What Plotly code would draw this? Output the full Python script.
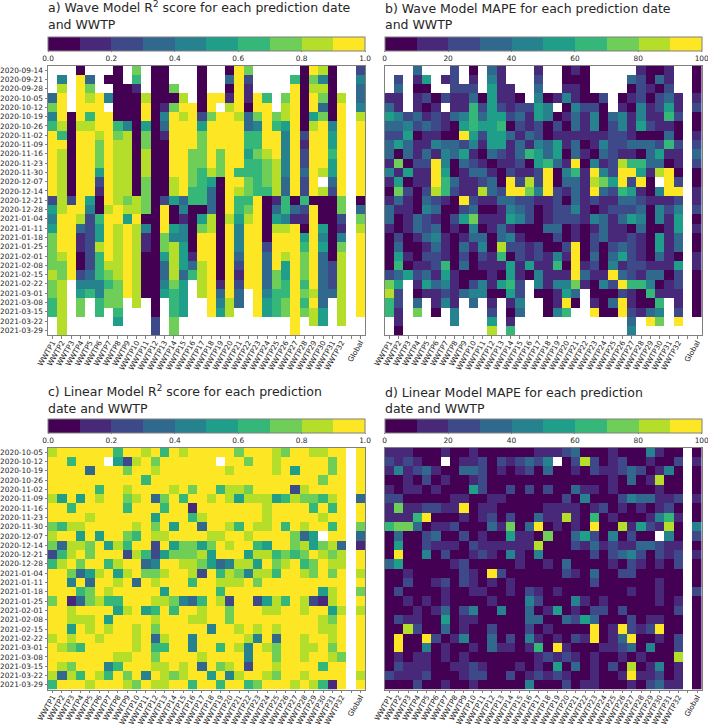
import numpy as np
import plotly.graph_objects as go

# every cell is read off the picture as its colour band (0-9), "." means no value
wwtp_labels = ["WWTP%d" % i for i in range(1, 33)] + ["Global"]
wwtp_ticks = list(range(32)) + [33]
blank_tick = [32]

dates_wave = ["2020-09-14", "2020-09-21", "2020-09-28", "2020-10-05", "2020-10-12", "2020-10-19",
              "2020-10-26", "2020-11-02", "2020-11-09", "2020-11-16", "2020-11-23", "2020-11-30",
              "2020-12-07", "2020-12-14", "2020-12-21", "2020-12-28", "2021-01-04", "2021-01-11",
              "2021-01-18", "2021-01-25", "2021-02-01", "2021-02-08", "2021-02-15", "2021-02-22",
              "2021-03-01", "2021-03-08", "2021-03-15", "2021-03-22", "2021-03-29"]
dates_linear = dates_wave[3:]

wave_r2 = [
    "...0...0.7 .00...0..0 97.....098 0..2",
    ".4.93.00.6 .00...0..3 92....6074 0..4",
    ".8.97..001 .007..0..0 91....9088 0..3",
    "39.9894000 80008.0991 9196.79097 08.3",
    "79.999.000 90179909.8 9099.89093 09.4",
    "4909699000 9049892799 8379789057 09.8",
    "6808899640 5039995999 9349659089 49.9",
    "9609989780 7019997999 9669949299 59.9",
    "9909979880 7009997999 9669949199 59.9",
    "9809979880 8009977979 9578949299 69.9",
    "9809979880 8009977979 9667849299 59.9",
    "9809959880 8009976879 6667849398 59.9",
    "9809929880 7008976509 976783929. 39.9",
    "9809919880 7008966309 8766839298 29.9",
    "2829509878 7025366309 6690160600 07.0",
    "5899408988 7090400309 6790363290 07.3",
    "4998269959 0090105808 5890541190 02.7",
    "5993259898 4095407809 4990889095 01.8",
    "7991259898 1074409909 4990999594 04.9",
    "7991289898 1078509909 4992999695 07.9",
    "7890269898 0058519909 3993989793 08.9",
    "7790268898 0038538909 2993959793 28.9",
    "8792367898 0038368909 1993759793 28.9",
    "78.4446798 00475.8919 2993769693 28.9",
    "78.5647798 00565.8939 3.94669783 38.9",
    "68.7.677.8 .0.65..948 3.95679693 .8.9",
    "68.7.6.6.. .0.65..958 ..95679785 .8.9",
    ".8.....5.. .2.7...... ......9.85 .8..",
    ".8........ .2.7...... ......9... ....",
]

wave_mape = [
    "...3...2.0 .31...1..0 10.....100 1..0",
    ".2.15.12.1 .41...2..0 00....3203 1..0",
    ".3.00..222 .511..3..1 10....0210 2..0",
    "11.1202113 05110.4014 1002.01202 31.1",
    "31.101.116 25212254.0 4220.10412 51.2",
    "5423121346 3552315401 3140341411 62.0",
    "3342321056 5560212020 3140241521 10.0",
    "2250110095 2553132011 1111221000 30.1",
    "3531143324 1551314351 3014223332 62.2",
    "3031314351 0321365350 3103211035 11.3",
    "1702294032 1011205631 9041286633 01.2",
    "4151195013 3102112904 6194299518 90.0",
    "1501196311 2309282903 318759290. 92.0",
    "0720286211 8329974921 3193265104 99.1",
    "1310321092 1133221120 3121133211 12.1",
    "3110430023 0014320122 4101222304 24.2",
    "3013210257 1115420122 2143135404 15.0",
    "1013230104 0131000330 1013110300 15.1",
    "0201341013 3034100020 1023112105 13.0",
    "0300131031 4082212002 9020232105 13.0",
    "0510221020 2160212141 9030352103 10.1",
    "0601126030 1115151160 9120412211 15.1",
    "2352315100 0105104111 9311932133 02.0",
    "75.1534102 41562.4144 7104296640 12.0",
    "82.0112134 40052.0015 3.00021061 11.0",
    "62.3.141.3 .1.14..019 0.10391006 .1.0",
    "61.7.0.4.. .2.03..046 ..90092134 .2.0",
    ".1.....4.. .5.1...... ......3.97 .9..",
    ".0........ .8.6...... ......4... ....",
]

linear_r2 = [
    "8999999699 8969899999 7999879988 99.9",
    "996999.528 97999999.9 9799899999 79.9",
    "9999399979 9899999998 9999895999 79.9",
    "9999999999 6999999999 9999999997 99.9",
    "9999969989 9998979968 8799992899 99.9",
    "8595989978 9379699898 5888568776 89.3",
    "9969999969 9969919999 9998999969 69.9",
    "9999899999 9599968999 9998999998 99.9",
    "7688999998 9795993998 6988969899 69.7",
    "8995959976 9889999889 989999735. 99.3",
    "7388795869 9295775798 9965997857 83.1",
    "2689799928 6257778599 9588676798 78.9",
    "6897996899 3499887534 8859789679 88.9",
    "9973589589 7789982968 7488699879 79.8",
    "9949399893 9899969988 8979999999 99.9",
    "9996798999 9959999969 9999999995 89.7",
    "7913786699 9887436982 9925869821 89.9",
    "9989999589 5696998997 9998899899 58.8",
    "9988895999 9899988997 9999999998 79.9",
    "9959898998 9799999499 8989899998 89.9",
    "8989989998 9389949999 9849399899 89.9",
    "9876999998 9669949969 8498799889 79.9",
    "9999999889 9799998999 9499799899 87.9",
    "9879994699 9889893978 9299899996 99.9",
    "8386986979 4987899594 8998799899 99.8",
    "6999899987 9889969969 9679998986 19.9",
]

linear_mape = [
    "1110001001 0000001112 3000100041 00.0",
    "212100.011 20212324.0 2820120010 02.1",
    "1412310033 2010120300 1021123201 40.0",
    "0010201001 2000000000 0000103018 00.0",
    "1011010005 2002020200 3110100001 00.0",
    "2200000110 0110000002 0400024331 12.1",
    "1711221190 1100000111 1012010101 20.0",
    "1116900010 1202003118 1060100014 61.0",
    "6773011200 0317039010 1090081521 80.4",
    "0300230020 1005110700 352040200. 40.2",
    "0500211102 1111118000 2131211332 11.0",
    "0900402001 2104104000 0020234202 12.1",
    "3500000120 0000100103 0000102101 02.0",
    "0010000021 0920000002 1030022000 00.0",
    "0020012021 0101000000 0020000001 00.0",
    "0200001001 1001021010 0000001001 00.2",
    "0010101000 0100042000 4101000001 01.0",
    "0001013024 0040030150 1022020000 02.0",
    "0211005011 0000033003 2530002011 00.0",
    "0082003010 0200020100 0090192129 00.0",
    "0900920140 0302041010 2190139001 02.0",
    "0900401001 0311016091 0001123040 02.0",
    "0101101010 0000001212 1010010100 08.0",
    "0211100112 1000101050 3010208014 01.0",
    "2111200012 2002012121 0010019112 01.0",
    "0002001001 0000040002 0110001023 11.0",
]

viridis_10 = ["#440154", "#482878", "#3e4989", "#31688e", "#26828e",
              "#1f9e89", "#35b779", "#6ece58", "#b5de2b", "#fde725"]

W, H = 708, 725
FONT = "DejaVu Sans"
TEXT = "#262626"
SPINE = "#808080"


def band_scale():
    scale = []
    for i, c in enumerate(viridis_10):
        scale.append([i / 10, c])
        scale.append([(i + 1) / 10, c])
    return scale


def decode(rows, zmax):
    z = []
    for row in rows:
        cells = row.replace(" ", "")
        z.append([np.nan if c == "." else (int(c) + 0.5) * zmax / 10 for c in cells])
    return z


fig = go.Figure()


def add_panel(n, rows, dates, zmax, ticks, tickformat, title, left, top, bottom, bar_top, title_bottom, show_dates):
    right = left + 317
    xa, ya = ("xaxis%d" % n, "yaxis%d" % n)
    fig.add_trace(go.Heatmap(
        z=decode(rows, zmax), zmin=0, zmax=zmax, colorscale=band_scale(),
        xaxis="x%d" % n, yaxis="y%d" % n, hoverongaps=False,
        colorbar=dict(
            orientation="h", thickness=13.5, len=317 / W, lenmode="fraction",
            x=left / W, xanchor="left", y=1 - bar_top / H, yanchor="top",
            tickvals=ticks, tickformat=tickformat, ticks="outside", ticklen=1,
            tickwidth=0.8, tickcolor=SPINE, outlinewidth=1, outlinecolor=SPINE,
            tickfont=dict(family=FONT, size=7.4, color=TEXT), xpad=0, ypad=0,
            ticklabeloverflow="allow",
        ),
    ))
    fig.update_layout({
        xa: dict(domain=[left / W, right / W], anchor="y%d" % n, range=[-0.5, 33.5],
                 tickmode="array", tickvals=wwtp_ticks, ticktext=wwtp_labels,
                 minor=dict(tickmode="array", tickvals=blank_tick, ticks="outside",
                            ticklen=2.5, tickwidth=0.8, tickcolor=SPINE, showgrid=False),
                 tickangle=-60, ticks="outside", ticklen=2.5, tickwidth=0.8,
                 ticklabelstandoff=-3,
                 tickcolor=SPINE, showgrid=False, zeroline=False, showline=True,
                 linecolor=SPINE, linewidth=1, mirror=True, automargin=False,
                 tickfont=dict(family=FONT, size=7.3, color=TEXT)),
        ya: dict(domain=[1 - bottom / H, 1 - top / H], anchor="x%d" % n,
                 range=[len(dates) - 0.5, -0.5],
                 tickmode="array", tickvals=list(range(len(dates))), ticktext=dates,
                 showticklabels=show_dates, ticks="outside" if show_dates else "",
                 ticklen=2.5, tickwidth=0.8, tickcolor=SPINE,
                 showgrid=False, zeroline=False, showline=True, linecolor=SPINE,
                 linewidth=1, mirror=True, automargin=False,
                 tickfont=dict(family=FONT, size=7.4, color=TEXT)),
    })
    fig.add_annotation(
        text=title, xref="paper", yref="paper", x=left / W, y=1 - title_bottom / H,
        xanchor="left", yanchor="bottom", align="left", showarrow=False,
        font=dict(family=FONT, size=12.5, color=TEXT), xshift=-2,
    )


tick_r2 = [0, 0.2, 0.4, 0.6, 0.8, 1]
tick_mape = [0, 20, 40, 60, 80, 100]

add_panel(1, wave_r2, dates_wave, 1, tick_r2, ".1f",
          "a) Wave Model R<sup>2</sup> score for each prediction date<br>and WWTP",
          48, 65.5, 335, 37, 34, True)
add_panel(2, wave_mape, dates_wave, 100, tick_mape, "d",
          "b) Wave Model MAPE for each prediction date<br>and WWTP",
          384.7, 65.5, 335, 37, 34, False)
add_panel(3, linear_r2, dates_linear, 1, tick_r2, ".1f",
          "c) Linear Model R<sup>2</sup> score for each prediction<br>date and WWTP",
          48, 447.5, 689.5, 418.5, 418, True)
add_panel(4, linear_mape, dates_linear, 100, tick_mape, "d",
          "d) Linear Model MAPE for each prediction<br>date and WWTP",
          384.7, 447.5, 689.5, 418.5, 418, False)

fig.update_layout(
    template="none",
    width=W, height=H, autosize=False,
    margin=dict(l=0, r=0, t=0, b=0, autoexpand=False),
    plot_bgcolor="white", paper_bgcolor="white",
    font=dict(family=FONT, color=TEXT),
)

fig.write_html("out.html", config={"displayModeBar": False},
               post_script="document.body.style.margin='0';")
